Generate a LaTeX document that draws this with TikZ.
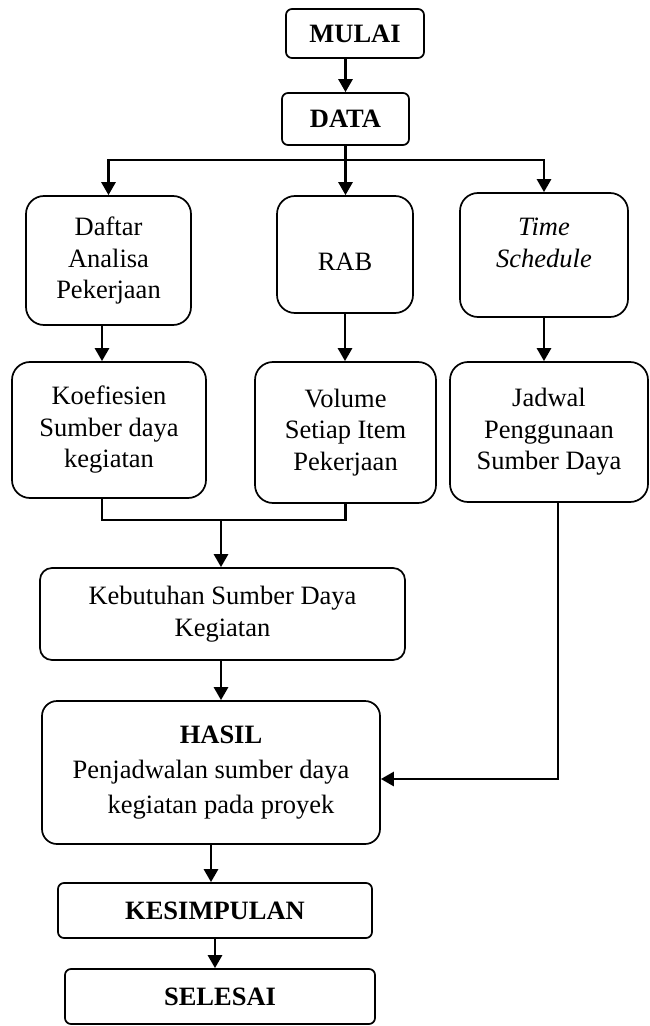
\documentclass[tikz,border=0pt]{standalone}
\usepackage{fontspec}
\setmainfont{Liberation Serif}
\usetikzlibrary{arrows.meta}

\begin{document}
\begin{tikzpicture}[
  x=0.5pt, y=-0.5pt,
  >={Triangle[length=6.5pt, width=7pt]},
  every node/.style={font=\fontsize{13.25}{15.75}\selectfont, align=center, inner sep=0pt},
  flowbox/.style={rectangle, rounded corners=9pt, draw=black, line width=0.85pt, fill=white},
  termbox/.style={flowbox, rounded corners=3pt, font=\fontsize{13.25}{15.75}\selectfont\bfseries},
  flow/.style={->, line width=1.35pt},
  link/.style={-, line width=1.35pt},
]
\useasboundingbox (0,0) rectangle (649,1026);

% ---- start ----
\node[termbox, minimum width=69pt, minimum height=24.5pt] (mulai) at (355,33.5) {MULAI};
\node[termbox, minimum width=63.5pt, minimum height=26pt] (data) at (345.5,119) {DATA};
% ---- input data (top row) ----
\node[flowbox, minimum width=82.5pt, minimum height=64.5pt] (daftar) at (108.5,260.5) {Daftar\\Analisa\\Pekerjaan};
\node[flowbox, minimum width=68pt, minimum height=58.5pt] (rab) at (345,254.5) {\raisebox{-3.5pt}[\height][\depth]{RAB}};
\node[flowbox, minimum width=84pt, minimum height=62pt] (time) at (544,255)
  {\raisebox{5pt}[\height][\depth]{\begin{tabular}{@{}c@{}}\textit{Time}\\\textit{Schedule}\end{tabular}}};
% ---- derived data (second row) ----
\node[flowbox, minimum width=97pt, minimum height=68pt] (koef) at (109,430) {Koefiesien\\Sumber daya\\kegiatan};
\node[flowbox, minimum width=90.5pt, minimum height=70.5pt] (volume) at (345.5,432.5) {Volume\\Setiap Item\\Pekerjaan};
\node[flowbox, minimum width=99pt, minimum height=70pt] (jadwal) at (549,432) {Jadwal\\Penggunaan\\Sumber Daya};
% ---- processing ----
\node[flowbox, rounded corners=6pt, minimum width=182.5pt, minimum height=46pt] (kebutuhan) at (222.5,614) {Kebutuhan Sumber Daya\\Kegiatan};
\node[flowbox, rounded corners=7.5pt, minimum width=169pt, minimum height=71.5pt,
  font=\fontsize{13.25}{17.5}\selectfont] (hasil) at (211,772.5)
  {\hspace*{10pt}\textbf{HASIL}\\Penjadwalan sumber daya\\\hspace*{10pt}kegiatan pada proyek};
% ---- end ----
\node[termbox, minimum width=157pt, minimum height=27.5pt] (kesimpulan) at (215,910.5) {KESIMPULAN};
\node[termbox, minimum width=155pt, minimum height=27.5pt] (selesai) at (220,996.5) {SELESAI};

% ---- helper points for the bus lines ----
\coordinate (bus) at (345,160);
\coordinate (lcol) at (102,0);
\coordinate (merge) at (221,520);
\coordinate (rcol) at (558,779);

% ---- connectors ----
\draw[flow] (mulai.south -| data.north) -- (data.north);
\draw[flow] (data.south) -- (rab.north -| data.south);
\draw[flow] (bus) -| (daftar.north);
\draw[flow] (bus) -| (time.north);
\draw[flow] (daftar.south -| lcol) -- (koef.north -| lcol);
\draw[flow] (rab.south) -- (volume.north -| rab.south);
\draw[flow] (time.south) -- (jadwal.north -| time.south);
\draw[link] (koef.south -| lcol) |- (merge) -| (volume.south);
\draw[flow] (merge) -- (kebutuhan.north -| merge);
\draw[flow] (kebutuhan.south -| merge) -- (hasil.north -| merge);
\draw[flow] (jadwal.south -| rcol) -- (rcol) -- (rcol -| hasil.east);
\draw[flow] (hasil.south) -- (kesimpulan.north -| hasil.south);
\draw[flow] (kesimpulan.south) -- (selesai.north -| kesimpulan.south);

\end{tikzpicture}
\end{document}
